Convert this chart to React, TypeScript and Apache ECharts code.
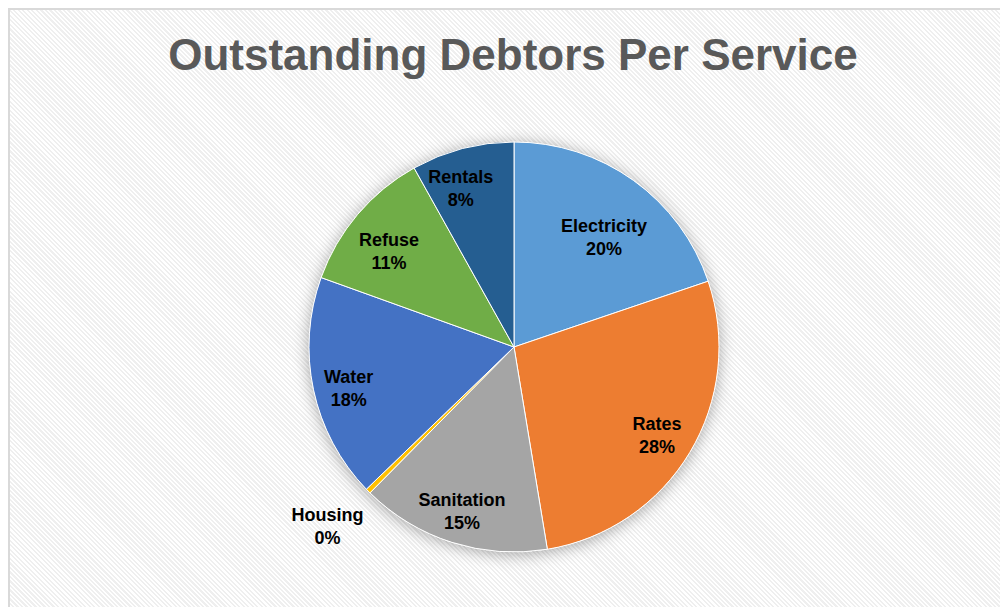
import React, { useEffect, useRef } from "react";
import * as echarts from "echarts";

const titleText = "Outstanding Debtors Per Service";
const categories = ["Electricity", "Rates", "Sanitation", "Housing", "Water", "Refuse", "Rentals"];
const shares = [19.8, 27.6, 15.0, 0.4, 17.7, 11.4, 8.1];
const colors = ["#5B9BD5", "#ED7D31", "#A5A5A5", "#FFC000", "#4472C4", "#70AD47", "#255E91"];

const FONT = "'Liberation Sans', Arial, sans-serif";

// label nudges (style only)
const labelNudge: Record<string, number[]> = {
  Electricity: [-8, 27],
  Rates: [-1, 2],
  Refuse: [3, 13],
  Rentals: [-11, 4],
  Housing: [-67, 61],
  Water: [-1, 6],
};

export default function App() {
  const ref = useRef<HTMLDivElement>(null);
  useEffect(() => {
    if (!ref.current) return;
    const chart = echarts.init(ref.current, null, { renderer: "svg" });
    const center = [504, 337];
    const R = 205;
    const pieData = categories.map((name, i) => ({
      name,
      value: shares[i],
      itemStyle: { color: colors[i] },
    }));
    const labelData = categories.map((name, i) => {
      const item: any = { name, value: shares[i] };
      if (labelNudge[name]) {
        item.label = { offset: labelNudge[name] };
      }
      return item;
    });
    chart.setOption({
      animation: false,
      backgroundColor: "transparent",
      graphic: [
        {
          type: "text",
          x: 503,
          y: 44,
          style: {
            text: titleText,
            font: `bold 44px ${FONT}`,
            fill: "#595959",
            align: "center",
            verticalAlign: "middle",
          },
        },
      ],
      series: [
        {
          type: "pie",
          center,
          radius: R,
          silent: true,
          z: 1,
          label: { show: false },
          labelLine: { show: false },
          itemStyle: {
            color: "#ffffff",
            shadowBlur: 16,
            shadowOffsetY: 2,
            shadowColor: "rgba(0,0,0,0.35)",
          },
          data: [{ name: "bg", value: 1 }],
        },
        {
          type: "pie",
          center,
          radius: R,
          startAngle: 90,
          clockwise: true,
          z: 2,
          label: { show: false },
          labelLine: { show: false },
          itemStyle: { borderColor: "#ffffff", borderWidth: 1 },
          data: pieData,
        },
        {
          type: "pie",
          center,
          radius: [125, R],
          startAngle: 90,
          clockwise: true,
          z: 3,
          silent: true,
          itemStyle: { color: "rgba(0,0,0,0)", borderWidth: 0 },
          labelLine: { show: false },
          label: {
            show: true,
            position: "inside",
            offset: [-1, 4],
            formatter: (p: any) => `${p.name}\n${Math.round(p.percent)}%`,
            fontFamily: FONT,
            fontWeight: "bold",
            fontSize: 18,
            lineHeight: 23,
            color: "#000000",
            align: "center",
          },
          data: labelData,
        },
      ],
    });
    return () => chart.dispose();
  }, []);
  return (
    <div
      style={{
        position: "relative",
        width: 1000,
        height: 599,
        boxSizing: "border-box",
        borderLeft: "2px solid #d9d9d9",
        borderTop: "2px solid #d9d9d9",
        background:
          "repeating-linear-gradient(45deg, #ffffff 0px, #ffffff 1.6px, #efefef 1.6px, #efefef 3.2px)",
        overflow: "hidden",
      }}
    >
      <div ref={ref} style={{ position: "absolute", left: 0, top: 0, width: 998, height: 597 }} />
    </div>
  );
}
